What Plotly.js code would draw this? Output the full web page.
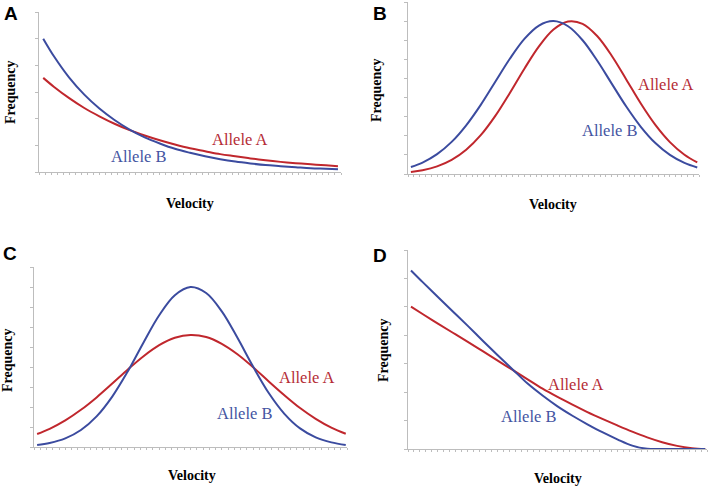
<!DOCTYPE html>
<html>
<head>
<meta charset="utf-8">
<script src="https://cdn.plot.ly/plotly-3.0.1.min.js"></script>
<style>
  html, body { margin: 0; padding: 0; background: #fff; }
  #plot { width: 711px; height: 487px; }
</style>
</head>
<body>
<div id="plot"></div>
<script>
// values (velocity on a 0-50 scale, frequency in tick units)
var velA = [0.7, 2.5, 5, 7.5, 10, 12.5, 15, 17.5, 20, 22.5, 25, 27.5, 30, 32.5, 35, 37.5, 40, 42.5, 45, 47.5, 49.5];
var alleleA_A = [3.53, 3.19, 2.77, 2.40, 2.09, 1.81, 1.57, 1.37, 1.19, 1.03, 0.89, 0.78, 0.67, 0.59, 0.51, 0.44, 0.38, 0.33, 0.29, 0.25, 0.22];
var alleleB_A = [5.00, 4.33, 3.54, 2.90, 2.38, 1.95, 1.59, 1.30, 1.07, 0.87, 0.72, 0.59, 0.48, 0.39, 0.32, 0.26, 0.22, 0.18, 0.14, 0.12, 0.10];

var velB = [0.5, 2.5, 5, 7.5, 10, 12.5, 15, 17.5, 20, 22.5, 25, 27.5, 30, 32.5, 35, 37.5, 40, 42.5, 45, 47.5, 49.7];
var alleleA_B = [0.11, 0.20, 0.40, 0.74, 1.27, 2.03, 3.04, 4.24, 5.51, 6.68, 7.56, 7.98, 7.86, 7.22, 6.19, 4.95, 3.69, 2.57, 1.67, 1.01, 0.61];
var alleleB_B = [0.37, 0.60, 1.04, 1.68, 2.55, 3.62, 4.83, 6.03, 7.07, 7.77, 8.00, 7.73, 7.00, 5.94, 4.73, 3.53, 2.47, 1.62, 1.00, 0.58, 0.34];

var velC = [0.5, 2.5, 5, 7.5, 10, 12.5, 15, 17.5, 20, 22.5, 25, 27.5, 30, 32.5, 35, 37.5, 40, 42.5, 45, 47.5, 49.8];
var alleleA_C = [0.65, 0.91, 1.33, 1.86, 2.48, 3.17, 3.88, 4.54, 5.09, 5.46, 5.60, 5.50, 5.16, 4.64, 3.99, 3.28, 2.59, 1.95, 1.41, 0.97, 0.66];
var alleleB_C = [0.10, 0.20, 0.43, 0.85, 1.53, 2.52, 3.79, 5.23, 6.59, 7.59, 8.00, 7.70, 6.78, 5.46, 4.02, 2.70, 1.66, 0.93, 0.48, 0.23, 0.10];

var velD = [0.5, 2.5, 5, 7.5, 10, 12.5, 15, 17.5, 20, 22.5, 25, 27.5, 30, 32.5, 35, 37.5, 40, 42.5, 45, 47.5, 49.7];
var alleleA_D = [5.01, 4.74, 4.41, 4.09, 3.77, 3.44, 3.11, 2.78, 2.45, 2.12, 1.83, 1.56, 1.30, 1.06, 0.83, 0.61, 0.41, 0.24, 0.11, 0.03, 0.00];
var alleleB_D = [6.28, 5.86, 5.35, 4.84, 4.33, 3.81, 3.30, 2.80, 2.30, 1.88, 1.50, 1.17, 0.87, 0.59, 0.34, 0.12, 0.01, 0.00, 0.00, 0.00, 0.00];

var panelLetters = ["A", "B", "C", "D"];
var yTop = [6, 9, 9, 7];

var RED = "#c0272d";
var BLUE = "#3b4b9f";
var RED_TXT = "#b52c36";
var BLUE_TXT = "#4454a2";
var AXIS = "#bdbdbd";

var W = 711, H = 487;
function px(x) { return x / W; }
function py(y) { return 1 - y / H; }

function curve(x, y, color, n) {
  return {
    x: x, y: y, type: "scatter", mode: "lines",
    xaxis: "x" + n, yaxis: "y" + n,
    line: {color: color, width: 2, shape: "spline", smoothing: 1},
    hoverinfo: "skip", showlegend: false
  };
}

var traces = [
  curve(velA, alleleA_A, RED, ""), curve(velA, alleleB_A, BLUE, ""),
  curve(velB, alleleA_B, RED, 2), curve(velB, alleleB_B, BLUE, 2),
  curve(velC, alleleA_C, RED, 3), curve(velC, alleleB_C, BLUE, 3),
  curve(velD, alleleA_D, RED, 4), curve(velD, alleleB_D, BLUE, 4)
];
traces[0].xaxis = "x"; traces[0].yaxis = "y";
traces[1].xaxis = "x"; traces[1].yaxis = "y";

function xax(l, r, anchor) {
  return {
    domain: [px(l), px(r)], anchor: anchor, range: [0, 50], fixedrange: true,
    showline: true, linecolor: AXIS, linewidth: 1, mirror: false,
    ticks: "outside", ticklen: 2, tickwidth: 1, tickcolor: AXIS, dtick: 1, tick0: 0,
    showticklabels: false, showgrid: false, zeroline: false
  };
}
function yax(b, t, top, anchor) {
  return {
    domain: [py(b), py(t)], anchor: anchor, range: [0, top], fixedrange: true,
    showline: true, linecolor: AXIS, linewidth: 1,
    ticks: "outside", ticklen: 3, tickwidth: 1, tickcolor: AXIS, dtick: 1, tick0: 0,
    showticklabels: false, showgrid: false, zeroline: false
  };
}

var ann = [];
function txt(x, y, s, font, extra) {
  var a = {xref: "paper", yref: "paper", x: px(x), y: py(y), text: s, showarrow: false,
           xanchor: "center", yanchor: "middle", font: font};
  for (var k in extra) a[k] = extra[k];
  ann.push(a);
}
var letterFont = {family: "Liberation Sans, Arial, sans-serif", size: 19, color: "#000"};
var titleFont = {family: "Liberation Serif, Times New Roman, serif", size: 14, color: "#000"};
var redFont = {family: "Liberation Serif, Times New Roman, serif", size: 16.5, color: RED_TXT};
var blueFont = {family: "Liberation Serif, Times New Roman, serif", size: 16.5, color: BLUE_TXT};

var letterPos = [[11, 14], [380, 13], [10, 254], [380, 255]];
var freqPos = [[10, 92], [377, 90], [7, 360], [383, 350]];
var veloPos = [[190, 203], [553, 204], [192, 475], [558, 478]];
var labA = [[240, 139], [666, 85], [307, 377], [576, 384]];
var labB = [[138, 156], [609, 130], [244, 413], [528, 416]];

for (var i = 0; i < 4; i++) {
  txt(letterPos[i][0], letterPos[i][1], "<b>" + panelLetters[i] + "</b>", letterFont);
  txt(freqPos[i][0], freqPos[i][1], "<b>Frequency</b>", titleFont, {textangle: -90});
  txt(veloPos[i][0], veloPos[i][1], "<b>Velocity</b>", titleFont);
  txt(labA[i][0], labA[i][1], "Allele A", redFont);
  txt(labB[i][0], labB[i][1], "Allele B", blueFont);
}

var layout = {
  width: W, height: H,
  margin: {l: 0, r: 0, t: 0, b: 0},
  paper_bgcolor: "#fff", plot_bgcolor: "rgba(0,0,0,0)",
  showlegend: false,
  xaxis: xax(39, 341, "y"), yaxis: yax(172, 12, yTop[0], "x"),
  xaxis2: xax(408, 699, "y2"), yaxis2: yax(174, 2, yTop[1], "x2"),
  xaxis3: xax(34, 347, "y3"), yaxis3: yax(447, 267, yTop[2], "x3"),
  xaxis4: xax(408, 707, "y4"), yaxis4: yax(449, 250, yTop[3], "x4"),
  annotations: ann
};

Plotly.newPlot("plot", traces, layout, {staticPlot: true, displayModeBar: false});
</script>
</body>
</html>
